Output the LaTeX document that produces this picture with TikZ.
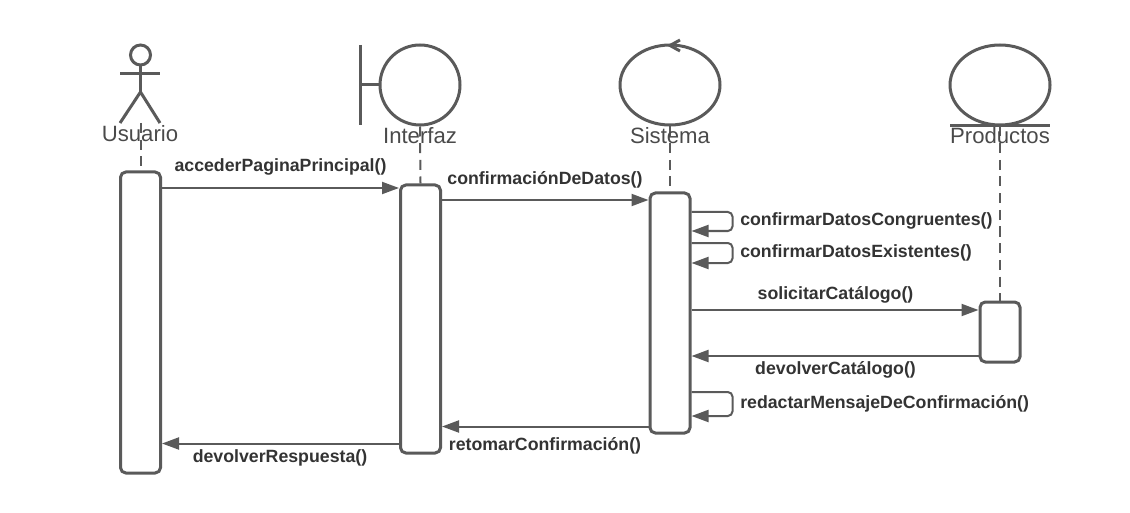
\documentclass[tikz,border=0pt]{standalone}
\usepackage{fontspec}
\setmainfont{Liberation Sans}
\usetikzlibrary{arrows.meta,shapes.geometric}
\definecolor{umlgray}{HTML}{5A5A5A}
\definecolor{headtext}{HTML}{4A4A4A}
\definecolor{msgtext}{HTML}{333333}
\tikzset {>={Triangle[length=12.75pt,width=9pt]}}
\tikzset{
  stroke/.style={draw=umlgray,line width=2.25pt},
  header/.style={anchor=base,text=headtext,inner sep=0pt,font=\fontsize{16.6}{18}\selectfont},
  lifeline/.style={draw=umlgray,line width=1.5pt,dash pattern=on 7.5pt off 5pt},
  activation/.style={stroke,fill=white,rectangle,rounded corners=4pt,minimum width=30pt,inner sep=0pt},
  msg/.style={->,draw=umlgray,line width=1.5pt},
  selfmsg/.style={msg,rounded corners=3.5pt},
  msglabel/.style={anchor=base,text=msgtext,inner sep=0pt,font=\bfseries\fontsize{13.3}{15}\selectfont},
}

\begin{document}
\begin{tikzpicture}[x=.75pt,y=-.75pt]
\useasboundingbox (0,0) rectangle (1130,513);

\node[stroke,circle,minimum size=15pt,inner sep=0pt] (usuarioHead) at (140.5,55) {};
\node[stroke,circle,minimum size=60pt,inner sep=0pt] (interfazIcon) at (420,85) {};
\node[stroke,ellipse,minimum width=75pt,minimum height=60pt,inner sep=0pt] (sistemaIcon) at (670,85) {};
\node[stroke,ellipse,minimum width=75pt,minimum height=60pt,inner sep=0pt] (productosIcon) at (1000,85) {};

\coordinate (hip) at (140.5,92);
\draw[stroke] (usuarioHead.south) -- (hip);
\draw[stroke] (120,74) -- (160,74);
\draw[stroke] (120,123) -- (hip) -- (160,123);
\draw[stroke] (360,45) -- (360,125);
\draw[stroke] (360,85) -- (interfazIcon.west);
\draw[stroke] (680,40) -- (670,45.5) -- (680,51);
\draw[stroke] (950,125.5) -- (1050,125.5);

\node[activation,minimum height=225.75pt] (usuarioBox) at (140.5,322.5) {};
\node[activation,minimum height=201pt] (interfazBox) at (420.5,319) {};
\node[activation,minimum height=180pt] (sistemaBox) at (670,313) {};
\node[activation,minimum height=45pt] (productosBox) at (1000,332) {};

% lifelines run under the names
\draw[lifeline] (140.5,123) -- (usuarioBox.north);
\draw[lifeline] (interfazIcon.south) -- (interfazBox.north);
\draw[lifeline] (sistemaIcon.south) -- (sistemaBox.north);
\draw[lifeline] (productosIcon.south) -- (productosBox.north);

\node[header] (usuarioName) at (140,141.7) {Usuario};
\node[header] (interfazName) at (420,143.7) {Interfaz};
\node[header] (sistemaName) at (670,143.7) {Sistema};
\node[header] (productosName) at (1000,143.7) {Productos};

\coordinate (m1) at (0,188);
\coordinate (m2) at (0,200);
\coordinate (m3) at (0,212);
\coordinate (m3r) at (0,231);
\coordinate (m4) at (0,243);
\coordinate (m4r) at (0,263);
\coordinate (m5) at (0,310);
\coordinate (m6) at (0,356);
\coordinate (m7) at (0,392);
\coordinate (m7r) at (0,416);
\coordinate (m8) at (0,426.5);
\coordinate (m9) at (0,443.5);

\draw[msg] (usuarioBox.east |- m1) -- (interfazBox.west |- m1);
\draw[msg] (interfazBox.east |- m2) -- (sistemaBox.west |- m2);
\draw[selfmsg] (sistemaBox.east |- m3) -- ++(41,0) |- (sistemaBox.east |- m3r);
\draw[selfmsg] (sistemaBox.east |- m4) -- ++(41,0) |- (sistemaBox.east |- m4r);
\draw[msg] (sistemaBox.east |- m5) -- (productosBox.west |- m5);
\draw[msg] (productosBox.west |- m6) -- (sistemaBox.east |- m6);
\draw[selfmsg] (sistemaBox.east |- m7) -- ++(41,0) |- (sistemaBox.east |- m7r);
\draw[msg] (sistemaBox.west |- m8) -- (interfazBox.east |- m8);
\draw[msg] (interfazBox.west |- m9) -- (usuarioBox.east |- m9);

\node[msglabel] (l1) at (280.5,171.8) {accederPaginaPrincipal()};
\node[msglabel] (l2) at (545,184.2) {confirmaciónDeDatos()};
\node[msglabel,anchor=base west] (l3) at (740,225.6) {confirmarDatosCongruentes()};
\node[msglabel,anchor=base west] (l4) at (740,257.6) {confirmarDatosExistentes()};
\node[msglabel] (l5) at (835.5,299.2) {solicitarCatálogo()};
\node[msglabel] (l6) at (835.5,374.6) {devolverCatálogo()};
\node[msglabel,anchor=base west] (l7) at (740,408.2) {redactarMensajeDeConfirmación()};
\node[msglabel] (l8) at (545,450) {retomarConfirmación()};
\node[msglabel] (l9) at (280,462) {devolverRespuesta()};
\end{tikzpicture}
\end{document}
